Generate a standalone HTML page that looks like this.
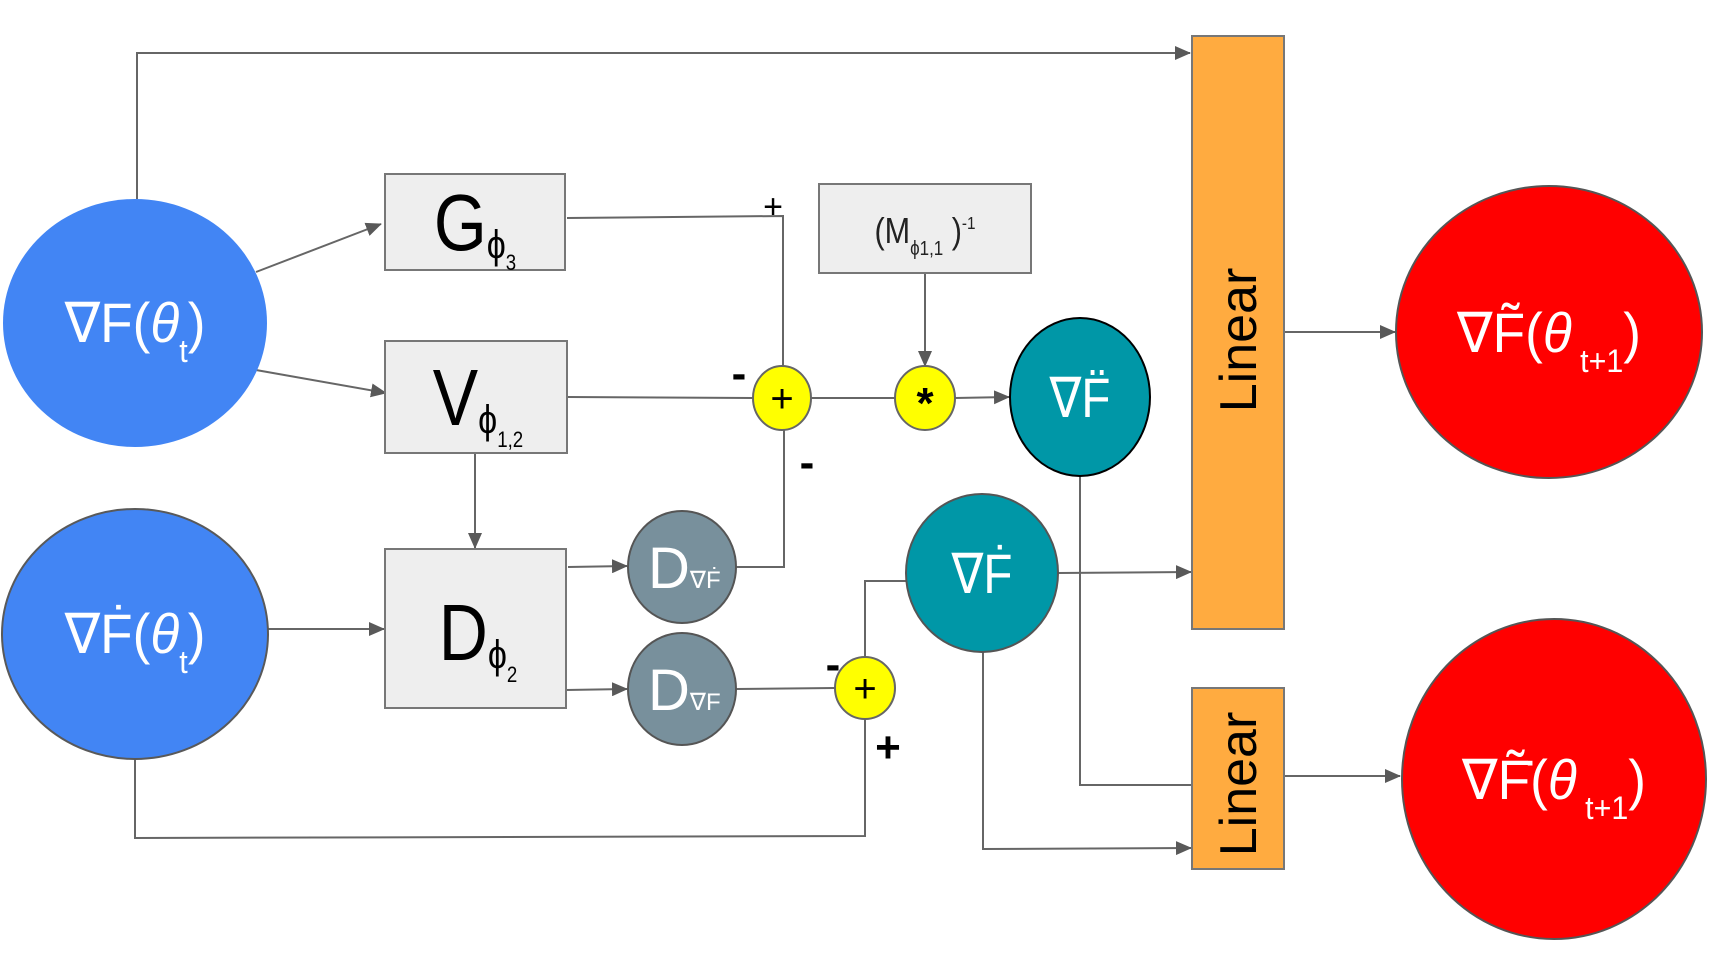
<!DOCTYPE html>
<html><head><meta charset="utf-8"><style>
html,body{margin:0;padding:0;background:#fff;}
svg{display:block;font-family:"Liberation Sans",sans-serif;}
</style></head><body>
<svg width="1728" height="977" viewBox="0 0 1728 977" xmlns="http://www.w3.org/2000/svg">
<defs>
<marker id="b" markerWidth="16" markerHeight="14" refX="15" refY="7" orient="auto" markerUnits="userSpaceOnUse" viewBox="0 0 16 14">
<path d="M0,0 L16,7 L0,14 z" fill="#595959"/></marker>
</defs>
<g fill="none" stroke="#666" stroke-width="2">
<polyline points="137,199 137,53 1190,53" marker-end="url(#b)"/>
<line x1="256" y1="272" x2="381" y2="224" marker-end="url(#b)"/>
<line x1="256" y1="370" x2="386" y2="393" marker-end="url(#b)"/>
<polyline points="567,218 783,216 783,366"/>
<line x1="567" y1="397" x2="753" y2="398"/>
<line x1="811" y1="398" x2="895" y2="398"/>
<line x1="955" y1="398" x2="1009" y2="397" marker-end="url(#b)"/>
<line x1="925" y1="273" x2="925" y2="366" marker-end="url(#b)"/>
<line x1="475" y1="453" x2="475" y2="548" marker-end="url(#b)"/>
<line x1="268" y1="629" x2="384" y2="629" marker-end="url(#b)"/>
<line x1="568" y1="567" x2="627" y2="566" marker-end="url(#b)"/>
<line x1="566" y1="690" x2="627" y2="689" marker-end="url(#b)"/>
<polyline points="736,567 784,567 784,429"/>
<line x1="736" y1="689" x2="835" y2="688"/>
<polyline points="865,657 865,581 907,581"/>
<polyline points="135,759 135,838 865,836 865,719"/>
<line x1="1058" y1="573" x2="1191" y2="572" marker-end="url(#b)"/>
<polyline points="1080,476 1080,785 1192,785"/>
<polyline points="983,652 983,849 1191,848" marker-end="url(#b)"/>
<line x1="1284" y1="332" x2="1395" y2="332" marker-end="url(#b)"/>
<line x1="1284" y1="776" x2="1400" y2="776" marker-end="url(#b)"/>
</g>
<ellipse cx="135" cy="323" rx="132" ry="124" fill="#4285f4"/>
<ellipse cx="135" cy="634" rx="133" ry="125" fill="#4285f4" stroke="#595959" stroke-width="2"/>
<g fill="#eeeeee" stroke="#777" stroke-width="2">
<rect x="385" y="174" width="180" height="96"/>
<rect x="385" y="341" width="182" height="112"/>
<rect x="385" y="549" width="181" height="159"/>
<rect x="819" y="184" width="212" height="89"/>
</g>
<ellipse cx="782" cy="398" rx="29" ry="32" fill="#ffff00" stroke="#666" stroke-width="2"/>
<ellipse cx="925" cy="398" rx="30" ry="32" fill="#ffff00" stroke="#666" stroke-width="2"/>
<ellipse cx="865" cy="688" rx="30" ry="31" fill="#ffff00" stroke="#666" stroke-width="2"/>
<ellipse cx="682" cy="567" rx="54" ry="56" fill="#78909c" stroke="#555" stroke-width="2"/>
<ellipse cx="682" cy="689" rx="54" ry="56" fill="#78909c" stroke="#555" stroke-width="2"/>
<ellipse cx="1080" cy="397" rx="70" ry="79" fill="#0097a7" stroke="#000" stroke-width="2"/>
<ellipse cx="982" cy="573" rx="76" ry="79" fill="#0097a7" stroke="#555" stroke-width="2"/>
<rect x="1192" y="36" width="92" height="593" fill="#ffab40" stroke="#777" stroke-width="2"/>
<rect x="1192" y="688" width="92" height="181" fill="#ffab40" stroke="#777" stroke-width="2"/>
<ellipse cx="1549" cy="332" rx="153" ry="146" fill="#ff0000" stroke="#555" stroke-width="2"/>
<ellipse cx="1554" cy="779" rx="152" ry="160" fill="#ff0000" stroke="#555" stroke-width="2"/>
<g fill="#fff" font-size="56">
<text transform="translate(135,342) scale(0.95,1)" text-anchor="middle">∇F(<tspan font-style="italic">θ</tspan><tspan font-size="32" dy="20">t</tspan><tspan dy="-20">)</tspan></text>
<text transform="translate(135,653) scale(0.95,1)" text-anchor="middle">∇Ḟ(<tspan font-style="italic">θ</tspan><tspan font-size="32" dy="20">t</tspan><tspan dy="-20">)</tspan></text>
<text transform="translate(1549,352) scale(0.95,1)" text-anchor="middle">∇F̃(<tspan font-style="italic">θ</tspan><tspan font-size="32" dy="20"> t+1</tspan><tspan dy="-20">)</tspan></text>
<text transform="translate(1554,799) scale(0.95,1)" text-anchor="middle">∇F̃̇(<tspan font-style="italic">θ</tspan><tspan font-size="32" dy="20"> t+1</tspan><tspan dy="-20">)</tspan></text>
<text transform="translate(1080,417) scale(0.85,1)" text-anchor="middle">∇F̈</text>
<text transform="translate(982,593) scale(0.85,1)" text-anchor="middle">∇Ḟ</text>
<text x="648" y="588" font-size="58">D<tspan font-size="24">∇Ḟ</tspan></text>
<text x="648" y="710" font-size="58">D<tspan font-size="24">∇F</tspan></text>
</g>
<g fill="#000">
<text transform="translate(475,250) scale(0.85,1)" font-size="80" text-anchor="middle">G<tspan font-size="40" dy="8">ϕ</tspan><tspan font-size="22" dy="12">3</tspan></text>
<text transform="translate(478,425) scale(0.85,1)" font-size="80" text-anchor="middle">V<tspan font-size="40" dy="8">ϕ</tspan><tspan font-size="22" dy="14">1,2</tspan></text>
<text transform="translate(478,660) scale(0.85,1)" font-size="80" text-anchor="middle">D<tspan font-size="40" dy="8">ϕ</tspan><tspan font-size="22" dy="14">2</tspan></text>
<text transform="translate(925,243) scale(0.85,1)" font-size="36" text-anchor="middle" fill="#222">(M<tspan font-size="20" dy="12">ϕ1,1</tspan><tspan dy="-12"> )</tspan><tspan font-size="18" dy="-14">-1</tspan></text>
<text x="782" y="412" font-size="40" text-anchor="middle">+</text>
<text x="925" y="418" font-size="44" font-weight="bold" text-anchor="middle">*</text>
<text x="865" y="702" font-size="40" text-anchor="middle">+</text>
<text x="773" y="218" font-size="34" text-anchor="middle">+</text>
<text x="888" y="762" font-size="44" font-weight="bold" text-anchor="middle">+</text>
<text x="739" y="388" font-size="44" font-weight="bold" text-anchor="middle">-</text>
<text x="807" y="477" font-size="44" font-weight="bold" text-anchor="middle">-</text>
<text x="833" y="679" font-size="44" font-weight="bold" text-anchor="middle">-</text>
<text transform="translate(1256,340) rotate(-90)" font-size="52" text-anchor="middle">Linear</text>
<text transform="translate(1256,784) rotate(-90)" font-size="52" text-anchor="middle">Linear</text>
</g>
</svg>
</body></html>
